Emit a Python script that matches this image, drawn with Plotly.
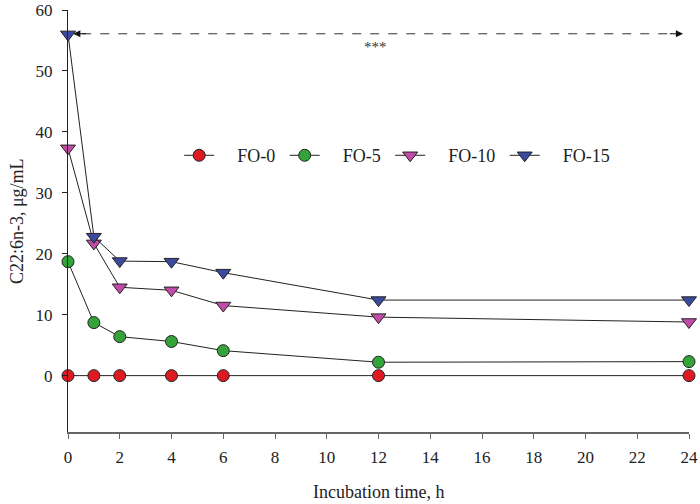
import plotly.graph_objects as go

time_h = [0, 1, 2, 4, 6, 12, 24]
series_names = ["FO-0", "FO-5", "FO-10", "FO-15"]
fo0 = [0, 0, 0, 0, 0, 0, 0]
fo5 = [18.7, 8.7, 6.4, 5.6, 4.1, 2.2, 2.3]
fo10 = [37.3, 21.7, 14.5, 14.0, 11.5, 9.6, 8.8]
fo15 = [56.0, 22.8, 18.8, 18.7, 16.9, 12.4, 12.4]
x_ticks = list(range(0, 25, 2))
y_ticks = list(range(0, 61, 10))

colors = ["#dd1a22", "#33a33a", "#c04ca8", "#3c4a9e"]
symbols = ["circle", "circle", "triangle-down", "triangle-down"]
font = "Liberation Serif"
nb = "\u00a0"

fig = go.Figure()
for name, vals, c, s in zip(series_names, [fo0, fo5, fo10, fo15], colors, symbols):
    fig.add_trace(go.Scatter(
        x=time_h, y=vals, name=nb * 4 + name + nb, mode="lines+markers",
        line=dict(color="#222222", width=1),
        marker=dict(symbol=s, size=12 if s == "circle" else 13, color=c,
                    line=dict(color="#222222", width=1)),
        cliponaxis=False,
    ))

# dashed double arrow
fig.add_shape(type="line", x0=0.55, x1=23.4, y0=56.1, y1=56.1,
              line=dict(color="#333333", width=1, dash="dash"))
fig.add_annotation(x=0.2, y=56.1, ax=0.75, ay=56.1, axref="x", ayref="y",
                   showarrow=True, arrowhead=2, arrowsize=1.2, arrowwidth=1.2,
                   arrowcolor="#111111", text="")
fig.add_annotation(x=23.77, y=56.1, ax=23.2, ay=56.1, axref="x", ayref="y",
                   showarrow=True, arrowhead=2, arrowsize=1.2, arrowwidth=1.2,
                   arrowcolor="#111111", text="")
fig.add_annotation(x=11.9, y=53.9, text="***", showarrow=False,
                   font=dict(family=font, size=15, color="#333333"))

# axis titles as annotations for exact placement
fig.add_annotation(xref="paper", yref="paper", x=0.5, y=-0.142, yanchor="middle",
                   text="Incubation time, h", showarrow=False,
                   font=dict(family=font, size=18, color="#222222"))
fig.add_annotation(xref="paper", yref="paper", x=-0.082, y=0.5, xanchor="center",
                   yanchor="middle",
                   text="C22:6n-3, μg/mL", showarrow=False, textangle=-90,
                   font=dict(family=font, size=18, color="#222222"))

fig.update_layout(
    width=700, height=504,
    margin=dict(l=68, r=11, t=10, b=72, autoexpand=False),
    paper_bgcolor="white", plot_bgcolor="white",
    font=dict(family=font, size=17, color="#222222"),
    showlegend=True,
    legend=dict(orientation="h", x=0.179, y=0.655, xanchor="left", yanchor="middle",
                bgcolor="rgba(0,0,0,0)", font=dict(family=font, size=18),
                itemwidth=30, tracegroupgap=0),
    xaxis=dict(range=[0, 24], tickvals=x_ticks, showgrid=False, zeroline=False,
               showline=True, linecolor="#666666", linewidth=1.5,
               ticks="outside", ticklen=5, tickcolor="#666666", automargin=False,
               ticklabelstandoff=4, ticklabeloverflow="allow", tickfont=dict(size=17)),
    yaxis=dict(range=[-9.25, 60], tickvals=y_ticks, showgrid=False, zeroline=False,
               showline=True, linecolor="#222222", linewidth=1.2,
               ticks="outside", ticklen=5, tickcolor="#222222", automargin=False,
               ticklabelstandoff=6, ticklabeloverflow="allow", tickfont=dict(size=17)),
)

fig.write_html("out.html", config={"displayModeBar": False},
               post_script="document.body.style.margin='0';")
